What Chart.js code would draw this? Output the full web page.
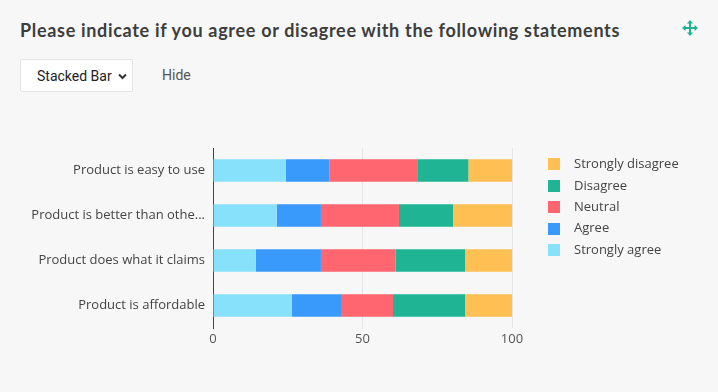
<!DOCTYPE html>
<html>
<head>
<meta charset="utf-8">
<script src="https://cdn.jsdelivr.net/npm/chart.js@4"></script>
<style>
  html, body { margin: 0; padding: 0; background: #f7f7f7; }
  body { width: 718px; height: 392px; position: relative; overflow: hidden; font-family: "Open Sans", sans-serif; }
  #title { position: absolute; left: 20px; top: 19px; font-family: Lato, sans-serif; font-weight: bold; font-size: 18px; letter-spacing: 0.68px; color: #3d3d3d; white-space: nowrap; }
  #icon { position: absolute; left: 682px; top: 20px; }
  #dropdown { position: absolute; left: 20px; top: 59px; width: 111px; height: 31px; background: #fff; border: 1px solid #e3e3e3; border-radius: 2px; }
  #dropdown span { position: absolute; left: 16px; top: 8px; font-family: Roboto, sans-serif; font-size: 14px; color: #222; }
  #dropdown svg { position: absolute; left: 97px; top: 13px; }
  #hide { position: absolute; left: 162px; top: 67px; font-family: Roboto, sans-serif; font-size: 14px; color: #555; }
  #wrap { position: absolute; left: 0; top: 130px; width: 718px; height: 228px; }
</style>
</head>
<body>
<div id="title">Please indicate if you agree or disagree with the following statements</div>
<svg id="icon" width="16" height="16" viewBox="0 0 16 16">
  <g fill="#1fb394">
    <rect x="7" y="2" width="2" height="12"/>
    <rect x="2" y="7" width="12" height="2"/>
    <polygon points="8,0 11,3.5 5,3.5"/>
    <polygon points="8,16 11,12.5 5,12.5"/>
    <polygon points="0,8 3.5,5 3.5,11"/>
    <polygon points="16,8 12.5,5 12.5,11"/>
  </g>
</svg>
<div id="dropdown"><span>Stacked Bar</span>
  <svg width="9" height="7" viewBox="0 0 9 7"><polyline points="1,1.5 4.5,5 8,1.5" fill="none" stroke="#333" stroke-width="2"/></svg>
</div>
<div id="hide">Hide</div>
<div id="wrap"><canvas id="c"></canvas></div>
<script>
const categories = ["Product is easy to use", "Product is better than othe...", "Product does what it claims", "Product is affordable"];
const seriesNames = ["Strongly agree", "Agree", "Neutral", "Disagree", "Strongly disagree"];
const stronglyAgree = [24.4, 21.3, 14.3, 26.4];
const agree = [14.6, 14.8, 21.8, 16.7];
const neutral = [29.3, 26.1, 25.0, 17.1];
const disagree = [17.1, 18.1, 23.2, 24.1];
const stronglyDisagree = [14.6, 19.7, 15.7, 15.7];
const seriesColors = ["#87e1fa", "#3a9afb", "#ff6670", "#1eb494", "#ffbf52"];
const xTicks = [0, 50, 100];

const seriesValues = [stronglyAgree, agree, neutral, disagree, stronglyDisagree];

function swatch(color) {
  const cv = document.createElement('canvas');
  cv.width = 12; cv.height = 12;
  const g = cv.getContext('2d');
  g.fillStyle = color;
  g.fillRect(0, 0, 12, 12);
  return cv;
}

const legendShift = {
  id: 'legendShift',
  beforeInit(chart) {
    const lg = chart.legend;
    if (!lg) return;
    const f = lg.fit;
    lg.fit = function () { f.call(this); this.width = 206; };
  },
  afterLayout(chart) {
    const lg = chart.legend;
    const pad = lg.options.labels.padding;
    const w = lg.right - lg.left;
    lg.left = 540.5 - pad;
    lg.right = lg.left + w;
    lg.top = chart.chartArea.top + 1.5;
  }
};

new Chart(document.getElementById('c'), {
  type: 'bar',
  data: {
    labels: categories,
    datasets: seriesNames.map((n, i) => ({
      label: n,
      data: seriesValues[i],
      backgroundColor: seriesColors[i],
      borderWidth: 0,
      barPercentage: 0.5,
      categoryPercentage: 1.0
    }))
  },
  options: {
    indexAxis: 'y',
    responsive: true,
    maintainAspectRatio: false,
    animation: false,
    layout: { padding: { top: 18, left: 0, right: 0, bottom: 0 } },
    scales: {
      x: {
        stacked: true, min: 0, max: 100,
        afterBuildTicks(s) { s.ticks = xTicks.map(v => ({ value: v })); },
        afterFit(s) { s.height = 30; },
        grid: { color: '#e4e4e4', drawTicks: false },
        border: { display: false },
        ticks: { padding: 3, color: '#555', font: { family: 'Open Sans', size: 13 } }
      },
      y: {
        stacked: true,
        afterFit(s) { s.width = 213; },
        grid: { display: false, drawTicks: false },
        border: { display: true, color: '#444', width: 1 },
        ticks: { padding: 8, color: '#444', font: { family: 'Open Sans', size: 13 } }
      }
    },
    plugins: {
      legend: {
        position: 'right',
        reverse: true,
        align: 'start',
        labels: {
          font: { family: 'Open Sans', size: 13 },
          color: '#444',
          padding: 8.4,
          usePointStyle: true,
          pointStyleWidth: 27,
          generateLabels(chart) {
            return chart.data.datasets.map((ds, i) => ({
              text: ds.label,
              fillStyle: ds.backgroundColor,
              strokeStyle: ds.backgroundColor,
              lineWidth: 0,
              pointStyle: swatch(ds.backgroundColor),
              hidden: false,
              datasetIndex: i,
              fontColor: '#444'
            }));
          }
        }
      },
      tooltip: { enabled: false }
    }
  },
  plugins: [legendShift]
});
</script>
</body>
</html>
